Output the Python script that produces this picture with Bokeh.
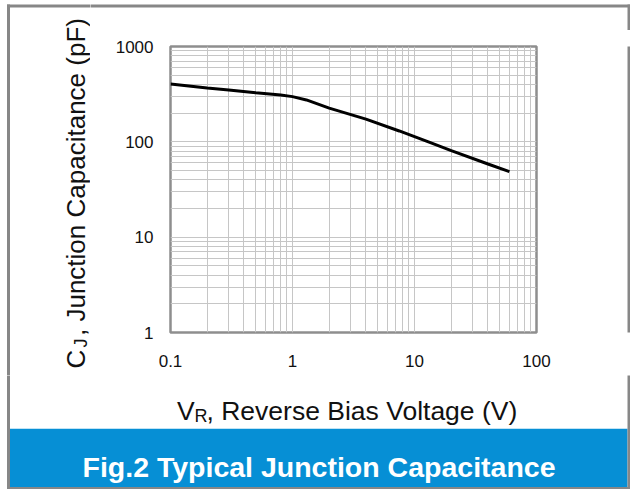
import math
from bokeh.plotting import figure
from bokeh.models import FixedTicker, Range1d
from bokeh.layouts import row, column
from bokeh.core.properties import value
from bokeh.embed import file_html
from bokeh.resources import INLINE

# ---- data ----
vr = [0.1, 0.2, 0.3, 0.5, 0.8, 1.0, 1.3, 2.0, 4.0, 7.5, 13.5, 20, 40, 60]
cj = [405, 367, 350, 328, 310, 298, 275, 226, 173, 130, 98, 81, 58.5, 48.6]

x_ticks = [0.1, 1, 10, 100]
x_tick_labels = ["0.1", "1", "10", "100"]
y_ticks = [1, 10, 100, 1000]
y_tick_labels = ["1", "10", "100", "1000"]

title_text = "Fig.2 Typical Junction Capacitance"
x_title = ["V", "R", ", Reverse Bias Voltage (V)"]
y_title = ["C", "J", ", Junction Capacitance (pF)"]

FONT = "Liberation Sans"
TXT = "#111111"
BORDER = "#878787"
BLUE = "#068fd5"

# outer card frame bands (page pixels): left, right, top, bottom
EDGE_L = [6.5, 627.0, 6.5, 6.5]
EDGE_R = [9.5, 630.0, 630.0, 630.0]
EDGE_T = [4.0, 4.0, 4.0, 486.5]
EDGE_B = [489.0, 489.0, 7.0, 489.0]


def decor(x0, x1, y0, y1):
    """A figure whose frame fills it, with page-pixel coordinates (y down)."""
    f = figure(width=x1 - x0, height=y1 - y0,
               x_range=Range1d(x0, x1), y_range=Range1d(y1, y0),
               x_axis_location=None, y_axis_location=None,
               output_backend="svg", toolbar_location=None, min_border=0)
    f.grid.visible = False
    f.outline_line_color = None
    f.background_fill_color = "white"
    f.border_fill_color = "white"
    return f


def card_edges(f):
    f.quad(left=EDGE_L, right=EDGE_R, top=EDGE_T, bottom=EDGE_B,
           fill_color=BORDER, line_color=None)


# ---- main chart ----
p = figure(width=510, height=345, x_axis_type="log", y_axis_type="log",
           x_range=(0.1, 100), y_range=(1, 1000),
           output_backend="svg", toolbar_location=None,
           min_border_left=80, min_border_right=64,
           min_border_top=16, min_border_bottom=43)
p.background_fill_color = "white"
p.border_fill_color = "white"
p.outline_line_color = "#8e8e8e"
p.outline_line_width = 2.5


def minors(ticks):
    out = []
    for d in ticks[:-1]:
        for m in range(2, 10):
            out.append(d * m)
    return out


p.xaxis.ticker = FixedTicker(ticks=x_ticks, minor_ticks=minors(x_ticks))
p.yaxis.ticker = FixedTicker(ticks=y_ticks, minor_ticks=minors(y_ticks))
p.xaxis.major_label_overrides = {t: l for t, l in zip(x_ticks, x_tick_labels)}
p.yaxis.major_label_overrides = {t: l for t, l in zip(y_ticks, y_tick_labels)}

for ax in (p.xaxis, p.yaxis):
    ax.axis_line_color = None
    ax.major_tick_line_color = None
    ax.minor_tick_line_color = None
    ax.major_label_text_font = FONT
    ax.major_label_text_font_size = "17px"
    ax.major_label_text_color = TXT
p.xaxis.major_label_standoff = 16
p.yaxis.major_label_standoff = 11

for g in (p.xgrid, p.ygrid):
    g.grid_line_color = "#c6c6c6"
    g.grid_line_width = 1
    g.minor_grid_line_color = "#c6c6c6"
    g.minor_grid_line_width = 1

p.line(vr, cj, line_color="black", line_width=3)

# ---- surrounding pieces ----
left = decor(0, 90, 0, 375)
top = decor(90, 630, 0, 30)
right = decor(600, 630, 30, 375)
bottom = decor(0, 630, 375, 489)

# y-axis title (rotated, with subscript J)
left.text(x=[75], y=[368], text=[y_title[0]], angle=math.pi / 2,
          text_font=value(FONT), text_font_size=value("26px"), text_color=TXT,
          text_align="left", text_baseline="alphabetic")
left.text(x=[80], y=[347], text=[y_title[1]], angle=math.pi / 2,
          text_font=value(FONT), text_font_size=value("18px"), text_color=TXT,
          text_align="left", text_baseline="alphabetic")
left.text(x=[75], y=[335.5], text=[y_title[2]], angle=math.pi / 2,
          text_font=value(FONT), text_font_size=value("26px"), text_color=TXT,
          text_align="left", text_baseline="alphabetic")

# x-axis title (with subscript R)
bottom.text(x=[176.5], y=[410], text=[x_title[0]],
            text_font=value(FONT), text_font_size=value("26.5px"), text_color=TXT,
            text_align="left", text_baseline="alphabetic")
bottom.text(x=[194], y=[415], text=[x_title[1]],
            text_font=value(FONT), text_font_size=value("18px"), text_color=TXT,
            text_align="left", text_baseline="alphabetic")
bottom.text(x=[206], y=[410], text=[x_title[2]],
            text_font=value(FONT), text_font_size=value("26.5px"), text_color=TXT,
            text_align="left", text_baseline="alphabetic")

# blue caption banner
bottom.quad(left=[9.5], right=[627.0], top=[428.3], bottom=[486.5],
            fill_color=BLUE, line_color=None)
bottom.text(x=[318.5], y=[466.5], text=[title_text],
            text_font=value(FONT), text_font_size=value("28.5px"),
            text_font_style="bold", text_color="white",
            text_align="center", text_baseline="alphabetic")

for f in (left, top, right, bottom):
    card_edges(f)

layout = column(row(left, column(top, row(p, right))), bottom)

open("out.html", "w").write(file_html(layout, INLINE))
